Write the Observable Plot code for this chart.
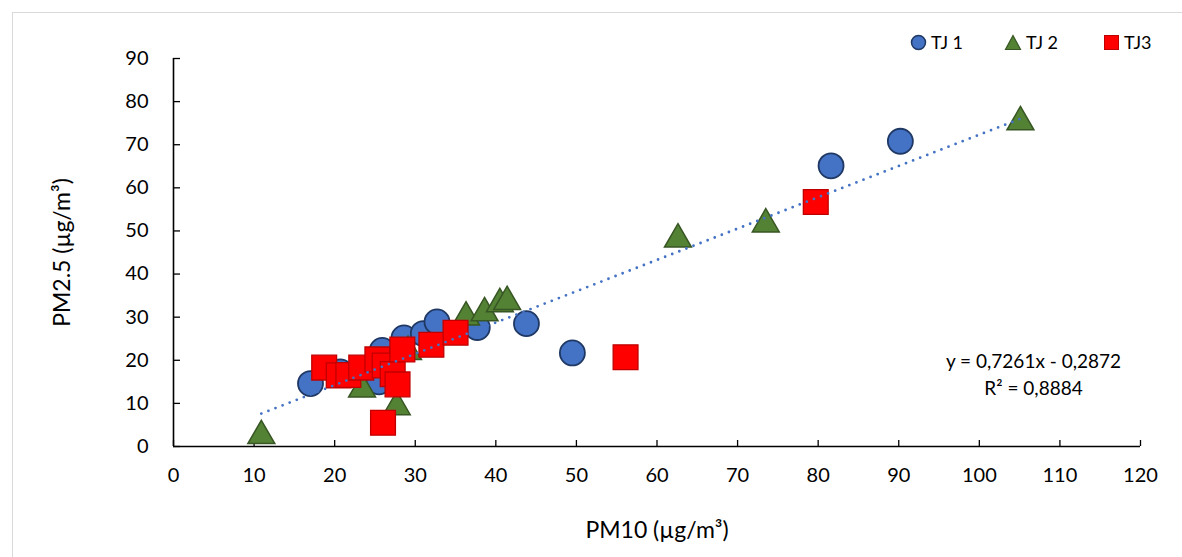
<!DOCTYPE html>
<html>
<head>
<meta charset="utf-8">
<script src="https://cdn.jsdelivr.net/npm/d3@7"></script>
<script src="https://cdn.jsdelivr.net/npm/@observablehq/plot@0.6"></script>
<style>
  html, body { margin: 0; padding: 0; background: #fff; }
  #wrap { position: relative; width: 1182px; height: 557px; overflow: hidden; font-family: Lato, "Open Sans", sans-serif; }
  #frame { position: absolute; left: 12px; top: 12px; width: 1200px; height: 600px; border: 1px solid #d9d9d9; box-sizing: border-box; }
  #chart { position: absolute; left: 0; top: 0; }
  #legend { position: absolute; top: 31px; left: 0; width: 1182px; height: 26px; font-size: 18px; color: #000; }
  .li { position: absolute; display: flex; align-items: center; gap: 4px; }
</style>
</head>
<body>
<div id="wrap">
  <div id="frame"></div>
  <div id="chart"></div>
  <div id="legend"></div>
</div>
<script>
// Series values (PM10, PM2.5 in µg/m³)
const tj1X = [17.0, 20.7, 25.5, 25.9, 28.6, 31.0, 32.7, 37.7, 43.8, 49.5, 81.6, 90.2];
const tj1Y = [14.6, 17.3, 15.0, 22.3, 25.2, 26.2, 28.9, 27.6, 28.5, 21.7, 65.1, 70.8];

const tj2X = [10.9, 23.4, 27.7, 29.1, 36.3, 38.6, 40.5, 41.4, 62.6, 73.5, 105.1];
const tj2Y = [3.4, 14.2, 10.1, 22.9, 30.9, 31.9, 34.0, 34.5, 49.0, 52.5, 76.2];

const tj3X = [18.7, 20.5, 21.7, 23.3, 25.3, 26.2, 27.2, 27.8, 28.4, 32.0, 35.0, 26.0, 56.1, 79.7];
const tj3Y = [18.3, 16.5, 16.6, 18.3, 20.2, 18.8, 16.8, 14.4, 22.5, 23.6, 26.4, 5.5, 20.7, 56.7];

const seriesNames = ["TJ 1", "TJ 2", "TJ3"];
const xTicks = [0, 10, 20, 30, 40, 50, 60, 70, 80, 90, 100, 110, 120];
const yTicks = [0, 10, 20, 30, 40, 50, 60, 70, 80, 90];

// Trendline coefficients (as printed on the chart)
const slope = 0.7261;
const intercept = -0.2872;
const r2 = 0.8884;

const fmt = v => v.toFixed(4).replace(".", ",");
const eqText = `y = ${fmt(slope)}x - ${fmt(Math.abs(intercept))}\nR² = ${fmt(r2)}`;

const toRows = (xs, ys, s) => xs.map((x, i) => ({x, y: ys[i], s}));
const tj1 = toRows(tj1X, tj1Y, seriesNames[0]);
const tj2 = toRows(tj2X, tj2Y, seriesNames[1]);
const tj3 = toRows(tj3X, tj3Y, seriesNames[2]);
const all = [...tj1, ...tj2, ...tj3];
const [xmin, xmax] = d3.extent(all, d => d.x);
const trend = [xmin, xmax].map(x => ({x, y: slope * x + intercept}));

const W = 1182, H = 557, mL = 173, mR = 42, mT = 58, mB = 111;
const plotW = W - mL - mR, plotH = H - mT - mB;

const chart = Plot.plot({
  width: W, height: H,
  marginLeft: mL, marginRight: mR, marginTop: mT, marginBottom: mB,
  x: {domain: [0, 120]},
  y: {domain: [0, 90]},
  style: {fontFamily: "Lato, 'Open Sans', sans-serif", fontSize: "20px", color: "#000", background: "transparent", overflow: "visible"},
  marks: [
    Plot.axisX(xTicks, {tickSize: 0, tickPadding: 21, label: null, fontSize: 20}),
    Plot.axisY(yTicks, {tickSize: 0, tickPadding: 25, label: null, fontSize: 20}),
    Plot.tickX(xTicks, {x: d => d, insetTop: plotH - 6, stroke: "#000", strokeWidth: 1.3}),
    Plot.tickY(yTicks, {y: d => d, insetRight: plotW - 7, stroke: "#000", strokeWidth: 1.3}),
    Plot.ruleY([0], {stroke: "#000", strokeWidth: 1.6}),
    Plot.ruleX([0], {stroke: "#000", strokeWidth: 1.6}),
    Plot.dot(tj1, {x: "x", y: "y", r: 12.5, symbol: "circle", fill: "#4472C4", stroke: "#1F3864", strokeWidth: 1.8}),
    Plot.dot(tj2, {x: "x", y: "y", r: 10, symbol: "triangle", dy: 4, fill: "#548235", stroke: "#375623", strokeWidth: 1.5}),
    Plot.dot(tj3, {x: "x", y: "y", r: 14, symbol: "square", fill: "#FF0000", stroke: "#C00000", strokeWidth: 1.3}),
    Plot.line(trend, {x: "x", y: "y", stroke: "#4472C4", strokeWidth: 2.8, strokeDasharray: "0 7.6", strokeLinecap: "round"}),
    Plot.text([eqText], {frameAnchor: "bottom-right", dx: -107, dy: -52, textAnchor: "middle", lineAnchor: "bottom", lineHeight: 1.4, fontSize: 19, fill: "#000"}),
    Plot.text(["PM10 (µg/m³)"], {frameAnchor: "bottom", dy: 84, lineAnchor: "middle", fontSize: 23, fill: "#000"}),
    Plot.text(["PM2.5 (µg/m³)"], {frameAnchor: "left", dx: -111, textAnchor: "middle", lineAnchor: "middle", rotate: -90, fontSize: 23, fill: "#000"})
  ]
});
document.getElementById("chart").appendChild(chart);

// Legend
const legendItems = [
  {name: seriesNames[0], x: 910, svg: '<svg width="17" height="17"><circle cx="8.5" cy="8.5" r="7" fill="#4472C4" stroke="#1F3864" stroke-width="1.5"/></svg>'},
  {name: seriesNames[1], x: 1004, svg: '<svg width="18" height="17"><path d="M9 1.5 L16.5 15.5 L1.5 15.5 Z" fill="#548235" stroke="#375623" stroke-width="1.2"/></svg>'},
  {name: seriesNames[2], x: 1103, svg: '<svg width="17" height="17"><rect x="1.5" y="1.5" width="14" height="14" fill="#FF0000" stroke="#C00000" stroke-width="1"/></svg>'}
];
const leg = document.getElementById("legend");
legendItems.forEach(it => {
  const d = document.createElement("div");
  d.className = "li";
  d.style.left = it.x + "px";
  d.innerHTML = it.svg + "<span>" + it.name + "</span>";
  leg.appendChild(d);
});
</script>
</body>
</html>
